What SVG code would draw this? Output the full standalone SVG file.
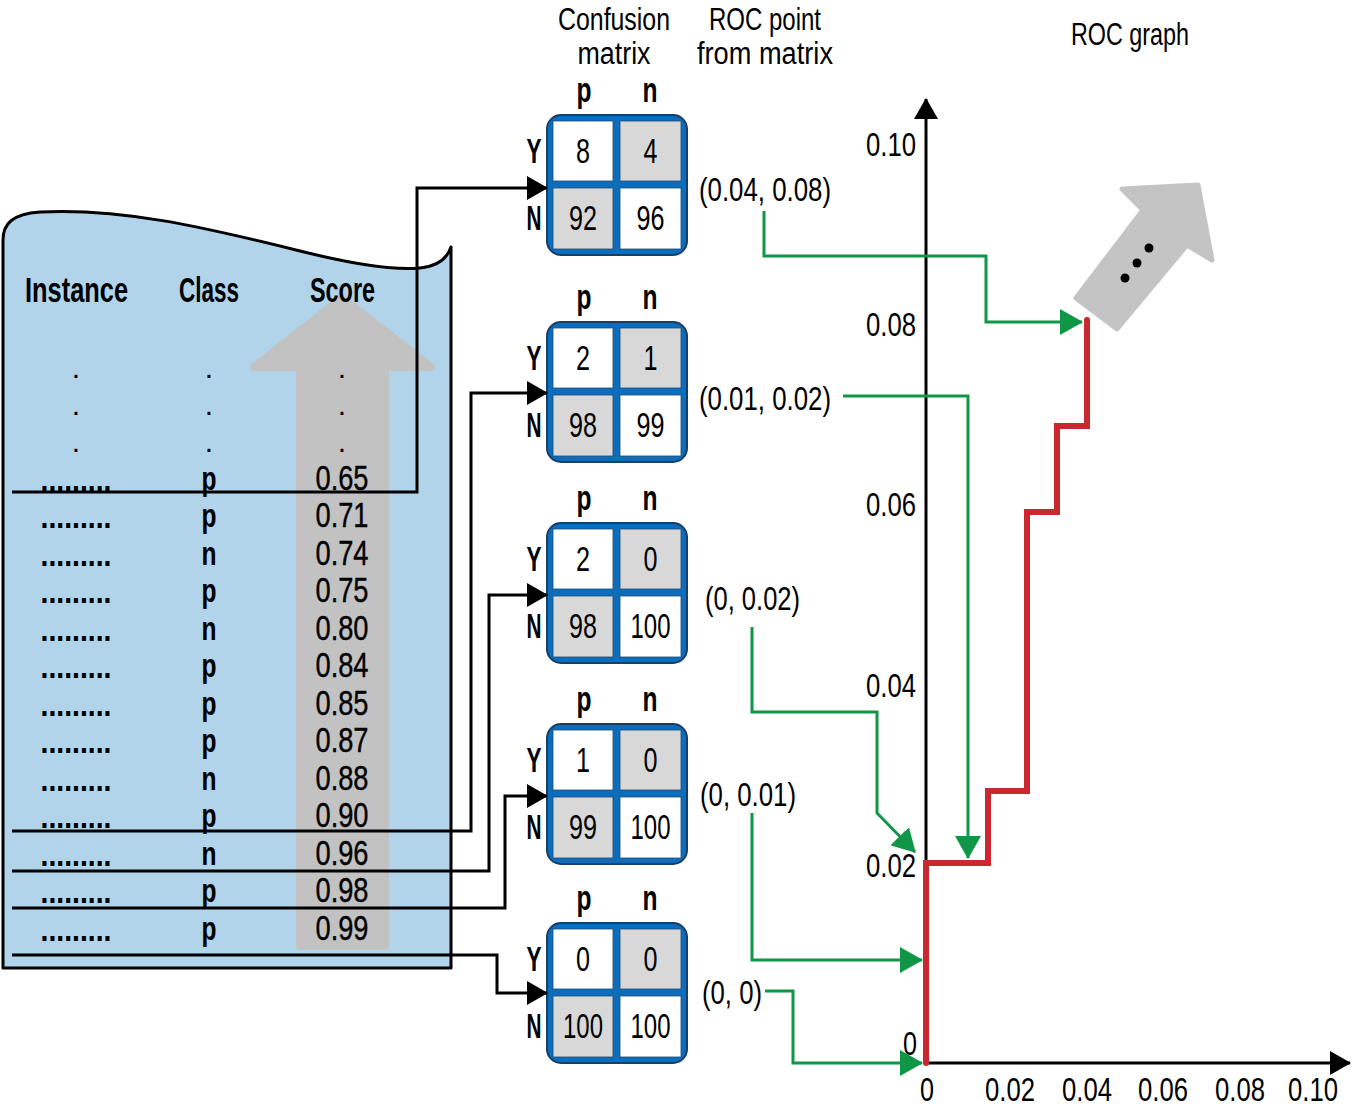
<svg xmlns="http://www.w3.org/2000/svg" width="1353" height="1114" viewBox="0 0 1353 1114">
<defs>
<style>
.t{font-family:"Liberation Sans",Arial,sans-serif;fill:#000;}
.b{font-weight:bold;}
.c{text-anchor:middle;}
.e{text-anchor:end;}
.hd{font-size:35px;font-weight:bold;}
.row{font-size:34px;}
.dot{font-size:30px;}
.sc{font-size:35px;stroke:#000;stroke-width:0.4;}
.lbl{font-size:35px;font-weight:bold;text-anchor:middle;}
.num{font-size:35px;text-anchor:middle;}
.roc{font-size:33px;}
.hdr{font-size:31px;}
.tick{font-size:34px;}
.xt{font-size:33px;}
.frame{fill:#0c6dbd;stroke:#173f66;stroke-width:2;}
.cw{fill:#fff;stroke:#1d4b78;stroke-width:0.8;}
.cg{fill:#d8d8d8;stroke:#1d4b78;stroke-width:0.8;}
.blk{fill:none;stroke:#000;stroke-width:3;}
.grn{fill:none;stroke:#0f9646;stroke-width:3;}
</style>
<marker id="ab" markerUnits="userSpaceOnUse" markerWidth="22" markerHeight="24" refX="20" refY="12" orient="auto"><path d="M0,0 L21,12 L0,24 z" fill="#000"/></marker>
<marker id="ag" markerUnits="userSpaceOnUse" markerWidth="24" markerHeight="26" refX="22" refY="13" orient="auto"><path d="M0,0 L23,13 L0,26 z" fill="#0f9646"/></marker>
<marker id="ax" markerUnits="userSpaceOnUse" markerWidth="22" markerHeight="24" refX="20" refY="12" orient="auto"><path d="M0,0 L21,12 L0,24 z" fill="#000"/></marker>
</defs>
<rect width="1353" height="1114" fill="#fff"/>

<g id="document">
<path d="M3,968 L3,240 C3,224 12,214 40,212 C120,208 200,226 300,251 C360,266 400,270 420,268 C440,266 448,256 451,247 L451,968 Z" fill="#b1d4ea" stroke="#000" stroke-width="3" stroke-linejoin="round"/>
<path d="M342,298 L431,367 L385,367 L385,946 L300,946 L300,367 L254,367 Z" fill="#c2c2c2" stroke="#c2c2c2" stroke-width="8" stroke-linejoin="round"/>
<text class="t hd" x="25" y="302" textLength="103" lengthAdjust="spacingAndGlyphs">Instance</text>
<text class="t hd" x="179" y="302" textLength="60" lengthAdjust="spacingAndGlyphs">Class</text>
<text class="t hd" x="310" y="302" textLength="65" lengthAdjust="spacingAndGlyphs">Score</text>
<g class="t dot c">
<text x="76" y="378">.</text><text x="209" y="378">.</text><text x="342" y="378">.</text>
<text x="76" y="415">.</text><text x="209" y="415">.</text><text x="342" y="415">.</text>
<text x="76" y="452">.</text><text x="209" y="452">.</text><text x="342" y="452">.</text>
</g>
<g class="t row c b">
<text x="76" y="491" textLength="71" lengthAdjust="spacingAndGlyphs">.........</text><text x="209" y="490" textLength="15" lengthAdjust="spacingAndGlyphs">p</text>
<text x="76" y="528" textLength="71" lengthAdjust="spacingAndGlyphs">.........</text><text x="209" y="527" textLength="15" lengthAdjust="spacingAndGlyphs">p</text>
<text x="76" y="566" textLength="71" lengthAdjust="spacingAndGlyphs">.........</text><text x="209" y="565" textLength="15" lengthAdjust="spacingAndGlyphs">n</text>
<text x="76" y="603" textLength="71" lengthAdjust="spacingAndGlyphs">.........</text><text x="209" y="602" textLength="15" lengthAdjust="spacingAndGlyphs">p</text>
<text x="76" y="641" textLength="71" lengthAdjust="spacingAndGlyphs">.........</text><text x="209" y="640" textLength="15" lengthAdjust="spacingAndGlyphs">n</text>
<text x="76" y="678" textLength="71" lengthAdjust="spacingAndGlyphs">.........</text><text x="209" y="677" textLength="15" lengthAdjust="spacingAndGlyphs">p</text>
<text x="76" y="716" textLength="71" lengthAdjust="spacingAndGlyphs">.........</text><text x="209" y="715" textLength="15" lengthAdjust="spacingAndGlyphs">p</text>
<text x="76" y="753" textLength="71" lengthAdjust="spacingAndGlyphs">.........</text><text x="209" y="752" textLength="15" lengthAdjust="spacingAndGlyphs">p</text>
<text x="76" y="791" textLength="71" lengthAdjust="spacingAndGlyphs">.........</text><text x="209" y="790" textLength="15" lengthAdjust="spacingAndGlyphs">n</text>
<text x="76" y="828" textLength="71" lengthAdjust="spacingAndGlyphs">.........</text><text x="209" y="827" textLength="15" lengthAdjust="spacingAndGlyphs">p</text>
<text x="76" y="866" textLength="71" lengthAdjust="spacingAndGlyphs">.........</text><text x="209" y="865" textLength="15" lengthAdjust="spacingAndGlyphs">n</text>
<text x="76" y="903" textLength="71" lengthAdjust="spacingAndGlyphs">.........</text><text x="209" y="902" textLength="15" lengthAdjust="spacingAndGlyphs">p</text>
<text x="76" y="941" textLength="71" lengthAdjust="spacingAndGlyphs">.........</text><text x="209" y="940" textLength="15" lengthAdjust="spacingAndGlyphs">p</text>
</g>
<g class="t sc c">
<text x="342" y="490" textLength="53" lengthAdjust="spacingAndGlyphs">0.65</text>
<text x="342" y="527" textLength="53" lengthAdjust="spacingAndGlyphs">0.71</text>
<text x="342" y="565" textLength="53" lengthAdjust="spacingAndGlyphs">0.74</text>
<text x="342" y="602" textLength="53" lengthAdjust="spacingAndGlyphs">0.75</text>
<text x="342" y="640" textLength="53" lengthAdjust="spacingAndGlyphs">0.80</text>
<text x="342" y="677" textLength="53" lengthAdjust="spacingAndGlyphs">0.84</text>
<text x="342" y="715" textLength="53" lengthAdjust="spacingAndGlyphs">0.85</text>
<text x="342" y="752" textLength="53" lengthAdjust="spacingAndGlyphs">0.87</text>
<text x="342" y="790" textLength="53" lengthAdjust="spacingAndGlyphs">0.88</text>
<text x="342" y="827" textLength="53" lengthAdjust="spacingAndGlyphs">0.90</text>
<text x="342" y="865" textLength="53" lengthAdjust="spacingAndGlyphs">0.96</text>
<text x="342" y="902" textLength="53" lengthAdjust="spacingAndGlyphs">0.98</text>
<text x="342" y="940" textLength="53" lengthAdjust="spacingAndGlyphs">0.99</text>
</g>
</g>

<g id="headers" class="t c">
<text class="hdr" x="614" y="30" textLength="112" lengthAdjust="spacingAndGlyphs">Confusion</text>
<text class="hdr" x="614" y="64" textLength="73" lengthAdjust="spacingAndGlyphs">matrix</text>
<text class="hdr" x="765" y="30" textLength="112" lengthAdjust="spacingAndGlyphs">ROC point</text>
<text class="hdr" x="765" y="64" textLength="136" lengthAdjust="spacingAndGlyphs">from matrix</text>
<text class="hdr" x="1130" y="45" textLength="118" lengthAdjust="spacingAndGlyphs">ROC graph</text>
</g>

<g id="m1" class="t" transform="translate(547,115)">
<text class="lbl" x="37" y="-13" textLength="15" lengthAdjust="spacingAndGlyphs">p</text><text class="lbl" x="103" y="-13" textLength="15" lengthAdjust="spacingAndGlyphs">n</text>
<text class="lbl" x="-13" y="48" textLength="15" lengthAdjust="spacingAndGlyphs">Y</text><text class="lbl" x="-13" y="115" textLength="15" lengthAdjust="spacingAndGlyphs">N</text>
<rect class="frame" x="0" y="0" width="140" height="140" rx="14"/>
<rect class="cw" x="6" y="6" width="60" height="60"/><rect class="cg" x="73" y="6" width="61" height="60"/>
<rect class="cg" x="6" y="73" width="60" height="61"/><rect class="cw" x="73" y="73" width="61" height="61"/>
<text class="num" x="36" y="48" textLength="14" lengthAdjust="spacingAndGlyphs">8</text><text class="num" x="103.5" y="48" textLength="14" lengthAdjust="spacingAndGlyphs">4</text>
<text class="num" x="36" y="115" textLength="28" lengthAdjust="spacingAndGlyphs">92</text><text class="num" x="103.5" y="115" textLength="28" lengthAdjust="spacingAndGlyphs">96</text>
</g>
<g id="m2" class="t" transform="translate(547,322)">
<text class="lbl" x="37" y="-13" textLength="15" lengthAdjust="spacingAndGlyphs">p</text><text class="lbl" x="103" y="-13" textLength="15" lengthAdjust="spacingAndGlyphs">n</text>
<text class="lbl" x="-13" y="48" textLength="15" lengthAdjust="spacingAndGlyphs">Y</text><text class="lbl" x="-13" y="115" textLength="15" lengthAdjust="spacingAndGlyphs">N</text>
<rect class="frame" x="0" y="0" width="140" height="140" rx="14"/>
<rect class="cw" x="6" y="6" width="60" height="60"/><rect class="cg" x="73" y="6" width="61" height="60"/>
<rect class="cg" x="6" y="73" width="60" height="61"/><rect class="cw" x="73" y="73" width="61" height="61"/>
<text class="num" x="36" y="48" textLength="14" lengthAdjust="spacingAndGlyphs">2</text><text class="num" x="103.5" y="48" textLength="14" lengthAdjust="spacingAndGlyphs">1</text>
<text class="num" x="36" y="115" textLength="28" lengthAdjust="spacingAndGlyphs">98</text><text class="num" x="103.5" y="115" textLength="28" lengthAdjust="spacingAndGlyphs">99</text>
</g>
<g id="m3" class="t" transform="translate(547,523)">
<text class="lbl" x="37" y="-13" textLength="15" lengthAdjust="spacingAndGlyphs">p</text><text class="lbl" x="103" y="-13" textLength="15" lengthAdjust="spacingAndGlyphs">n</text>
<text class="lbl" x="-13" y="48" textLength="15" lengthAdjust="spacingAndGlyphs">Y</text><text class="lbl" x="-13" y="115" textLength="15" lengthAdjust="spacingAndGlyphs">N</text>
<rect class="frame" x="0" y="0" width="140" height="140" rx="14"/>
<rect class="cw" x="6" y="6" width="60" height="60"/><rect class="cg" x="73" y="6" width="61" height="60"/>
<rect class="cg" x="6" y="73" width="60" height="61"/><rect class="cw" x="73" y="73" width="61" height="61"/>
<text class="num" x="36" y="48" textLength="14" lengthAdjust="spacingAndGlyphs">2</text><text class="num" x="103.5" y="48" textLength="14" lengthAdjust="spacingAndGlyphs">0</text>
<text class="num" x="36" y="115" textLength="28" lengthAdjust="spacingAndGlyphs">98</text><text class="num" x="103.5" y="115" textLength="40" lengthAdjust="spacingAndGlyphs">100</text>
</g>
<g id="m4" class="t" transform="translate(547,724)">
<text class="lbl" x="37" y="-13" textLength="15" lengthAdjust="spacingAndGlyphs">p</text><text class="lbl" x="103" y="-13" textLength="15" lengthAdjust="spacingAndGlyphs">n</text>
<text class="lbl" x="-13" y="48" textLength="15" lengthAdjust="spacingAndGlyphs">Y</text><text class="lbl" x="-13" y="115" textLength="15" lengthAdjust="spacingAndGlyphs">N</text>
<rect class="frame" x="0" y="0" width="140" height="140" rx="14"/>
<rect class="cw" x="6" y="6" width="60" height="60"/><rect class="cg" x="73" y="6" width="61" height="60"/>
<rect class="cg" x="6" y="73" width="60" height="61"/><rect class="cw" x="73" y="73" width="61" height="61"/>
<text class="num" x="36" y="48" textLength="14" lengthAdjust="spacingAndGlyphs">1</text><text class="num" x="103.5" y="48" textLength="14" lengthAdjust="spacingAndGlyphs">0</text>
<text class="num" x="36" y="115" textLength="28" lengthAdjust="spacingAndGlyphs">99</text><text class="num" x="103.5" y="115" textLength="40" lengthAdjust="spacingAndGlyphs">100</text>
</g>
<g id="m5" class="t" transform="translate(547,923)">
<text class="lbl" x="37" y="-13" textLength="15" lengthAdjust="spacingAndGlyphs">p</text><text class="lbl" x="103" y="-13" textLength="15" lengthAdjust="spacingAndGlyphs">n</text>
<text class="lbl" x="-13" y="48" textLength="15" lengthAdjust="spacingAndGlyphs">Y</text><text class="lbl" x="-13" y="115" textLength="15" lengthAdjust="spacingAndGlyphs">N</text>
<rect class="frame" x="0" y="0" width="140" height="140" rx="14"/>
<rect class="cw" x="6" y="6" width="60" height="60"/><rect class="cg" x="73" y="6" width="61" height="60"/>
<rect class="cg" x="6" y="73" width="60" height="61"/><rect class="cw" x="73" y="73" width="61" height="61"/>
<text class="num" x="36" y="48" textLength="14" lengthAdjust="spacingAndGlyphs">0</text><text class="num" x="103.5" y="48" textLength="14" lengthAdjust="spacingAndGlyphs">0</text>
<text class="num" x="36" y="115" textLength="40" lengthAdjust="spacingAndGlyphs">100</text><text class="num" x="103.5" y="115" textLength="40" lengthAdjust="spacingAndGlyphs">100</text>
</g>

<g id="roc-points" class="t roc">
<text x="699" y="201" textLength="132" lengthAdjust="spacingAndGlyphs">(0.04, 0.08)</text>
<text x="699" y="410" textLength="132" lengthAdjust="spacingAndGlyphs">(0.01, 0.02)</text>
<text x="705" y="610" textLength="95" lengthAdjust="spacingAndGlyphs">(0, 0.02)</text>
<text x="700" y="806" textLength="96" lengthAdjust="spacingAndGlyphs">(0, 0.01)</text>
<text x="702" y="1004" textLength="60" lengthAdjust="spacingAndGlyphs">(0, 0)</text>
</g>

<g id="roc-graph">
<path class="blk" d="M926,1063 V99" marker-end="url(#ax)"/>
<path class="blk" d="M926,1063 H1350" marker-end="url(#ax)"/>
<g class="t tick e">
<text x="916" y="156" textLength="50" lengthAdjust="spacingAndGlyphs">0.10</text>
<text x="916" y="336" textLength="50" lengthAdjust="spacingAndGlyphs">0.08</text>
<text x="916" y="516" textLength="50" lengthAdjust="spacingAndGlyphs">0.06</text>
<text x="916" y="697" textLength="50" lengthAdjust="spacingAndGlyphs">0.04</text>
<text x="916" y="877" textLength="50" lengthAdjust="spacingAndGlyphs">0.02</text>
<text x="917" y="1055" textLength="14" lengthAdjust="spacingAndGlyphs">0</text>
</g>
<g class="t xt c">
<text x="927" y="1101" textLength="14" lengthAdjust="spacingAndGlyphs">0</text>
<text x="1010" y="1101" textLength="50" lengthAdjust="spacingAndGlyphs">0.02</text>
<text x="1087" y="1101" textLength="50" lengthAdjust="spacingAndGlyphs">0.04</text>
<text x="1163" y="1101" textLength="50" lengthAdjust="spacingAndGlyphs">0.06</text>
<text x="1240" y="1101" textLength="50" lengthAdjust="spacingAndGlyphs">0.08</text>
<text x="1313" y="1101" textLength="50" lengthAdjust="spacingAndGlyphs">0.10</text>
</g>
<path d="M926,1063 V863 H988 V791 H1027 V512 H1057 V426 H1087 V320" fill="none" stroke="#c8282e" stroke-width="6" stroke-linecap="round" stroke-linejoin="miter"/>
<g id="more-arrow">
<path d="M1198,185 L1212,260 L1187,245 L1117,329 L1076,298 L1143,210 L1122,189 Z" fill="#c4c4c4" stroke="#c4c4c4" stroke-width="5" stroke-linejoin="round"/>
<circle cx="1149" cy="248" r="4.5" fill="#000"/>
<circle cx="1137" cy="263" r="4.5" fill="#000"/>
<circle cx="1125" cy="278" r="4.5" fill="#000"/>
</g>
</g>

<g id="connectors">
<path class="blk" d="M12,492 H417 V188 H547" marker-end="url(#ab)"/>
<path class="blk" d="M12,831 H471 V393 H547" marker-end="url(#ab)"/>
<path class="blk" d="M12,871 H489 V595 H547" marker-end="url(#ab)"/>
<path class="blk" d="M12,908 H505 V796 H547" marker-end="url(#ab)"/>
<path class="blk" d="M12,955 H497 V993 H547" marker-end="url(#ab)"/>
<path class="grn" d="M764,211 V256 H986 V322 H1082" marker-end="url(#ag)"/>
<path class="grn" d="M843,396 H968 V858" marker-end="url(#ag)"/>
<path class="grn" d="M752,627 V712 H877 V813 L915,852" marker-end="url(#ag)"/>
<path class="grn" d="M752,813 V960 H922" marker-end="url(#ag)"/>
<path class="grn" d="M765,991 H793 V1063 H922" marker-end="url(#ag)"/>
</g>
</svg>
